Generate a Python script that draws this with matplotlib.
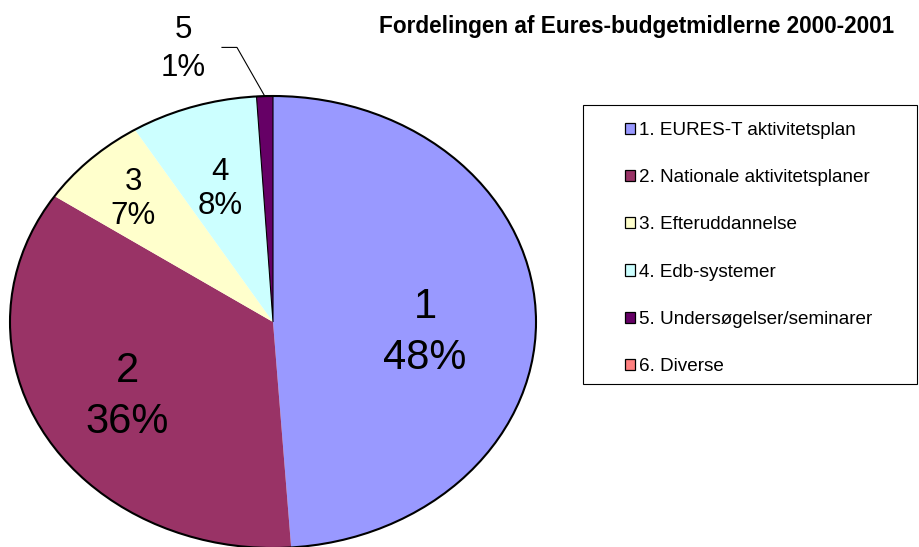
import matplotlib.pyplot as plt
import numpy as np
from matplotlib.patches import Circle, Rectangle

plt.rcParams['font.family'] = ['Liberation Sans', 'DejaVu Sans']

title = 'Fordelingen af Eures-budgetmidlerne 2000-2001'
names = ['1. EURES-T aktivitetsplan', '2. Nationale aktivitetsplaner', '3. Efteruddannelse',
         '4. Edb-systemer', '5. Undersøgelser/seminarer', '6. Diverse']
short = ['1', '2', '3', '4', '5', '6']
shares = [48.9, 35.5, 6.8, 7.8, 1.0, 0.0]
pct_labels = ['48%', '36%', '7%', '8%', '1%', '']
colors = ['#9999FF', '#993366', '#FFFFCC', '#CCFFFF', '#660066', '#FF8080']

# label anchors in pie coordinates (radius 1) and sizes
label_pos = [(0.578, -0.045), (-0.555, -0.33), (-0.532, 0.545), (-0.2, 0.59), (-0.342, 1.21)]
label_size = [30, 30, 22.5, 22.5, 22.5]
label_spacing = [1.35, 1.35, 1.17, 1.17, 1.35]

fig = plt.figure(figsize=(9.2, 5.47), dpi=100)
ax = fig.add_axes([10 / 920, -1 / 547, 526 / 920, 452 / 547])

wedges, _ = ax.pie(shares, colors=colors, startangle=90, counterclock=False,
                   radius=1, wedgeprops=dict(linewidth=0))
wedges[4].set_edgecolor('black')
wedges[4].set_linewidth(0.8)
ax.add_patch(Circle((0, 0), 1, fill=False, edgecolor='black', linewidth=1.5, clip_on=False))
ax.set_aspect('auto')
ax.set_xlim(-1, 1)
ax.set_ylim(-1, 1)
ax.axis('off')

for i, (p, s, ls) in enumerate(zip(label_pos, label_size, label_spacing)):
    ax.text(p[0], p[1], f'{short[i]}\n{pct_labels[i]}', ha='center', va='center',
            fontsize=s, linespacing=ls, clip_on=False)

# leader line for the small slice
w = wedges[4]
mid = np.deg2rad((w.theta1 + w.theta2) / 2)
lx, ly = label_pos[4]
ax.plot([lx + 0.148, lx + 0.205, np.cos(mid)], [ly + 0.005, ly + 0.005, np.sin(mid)],
        color='black', linewidth=0.8, clip_on=False)

fig.text(637 / 920, 1 - 27 / 547, title, ha='center', va='center', fontsize=16.3, fontweight='bold')

# legend box
fig.patches.append(Rectangle((583 / 920, 1 - 384 / 547), 334 / 920, 279 / 547,
                             transform=fig.transFigure, fill=False, edgecolor='black', linewidth=0.8))
leg = fig.legend(wedges, names, loc='upper left', bbox_to_anchor=(625 / 920, 1 - 122 / 547),
                 fontsize=13.6, frameon=False,
                 handlelength=0.55, handleheight=0.55, handletextpad=0.2,
                 labelspacing=1.6, borderpad=0, borderaxespad=0)
for h in leg.legend_handles:
    h.set_edgecolor('black')
    h.set_linewidth(0.9)

fig.savefig('out.png', dpi=100)
